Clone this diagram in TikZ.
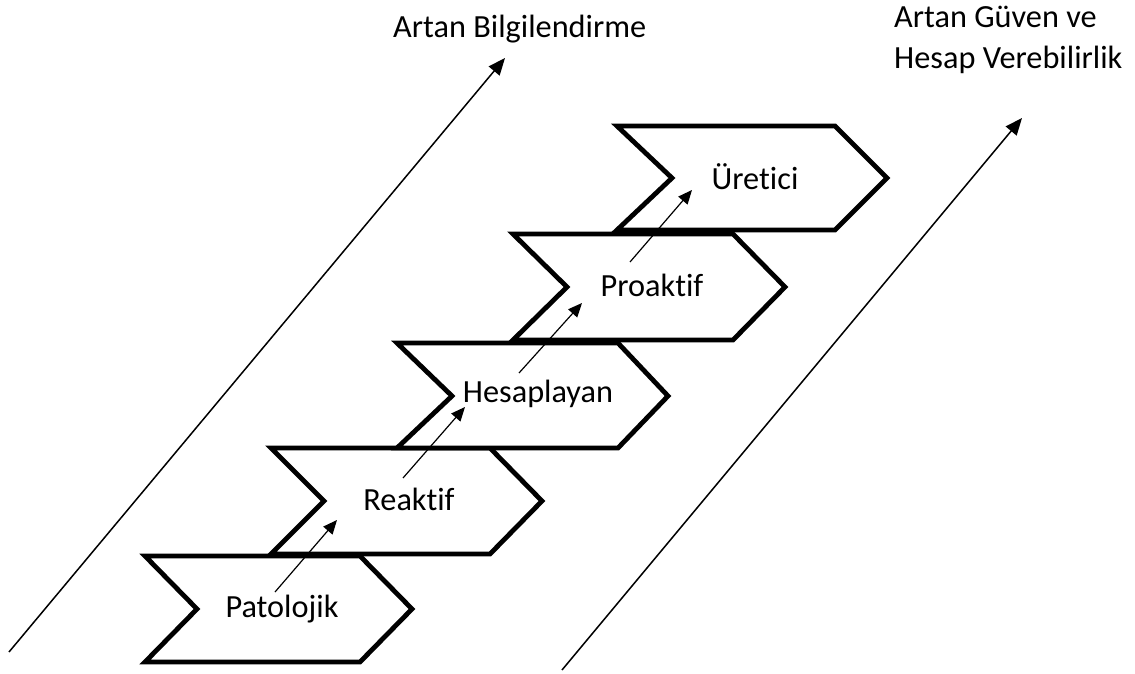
\documentclass[tikz,border=0pt]{standalone}
\usepackage{fontspec}
\setmainfont{Carlito}[Ligatures={NoCommon}]
\usetikzlibrary{arrows.meta}
\begin{document}
\begin{tikzpicture}[x=1pt,y=-1pt,
  chev/.style={draw=black,fill=white,line width=4.8pt,line join=miter},
  lbl/.style={font=\fontsize{32.3}{38}\selectfont,inner sep=0pt},
  small/.style={line width=1.2pt,-{Triangle[length=14pt,width=12pt]}},
  big/.style={line width=1.5pt,-{Triangle[length=17pt,width=14pt]}}]
\useasboundingbox (0,0) rectangle (1135,674);
\draw[chev] (145,556) -- (360,556) -- (412,609) -- (360,662) -- (145,662) -- (197,609) -- cycle;
\node[lbl] (c1) at (282,609) {Patolojik};
\draw[chev] (271,448) -- (490,448) -- (542,501) -- (490,554) -- (271,554) -- (324,501) -- cycle;
\node[lbl] (c2) at (409,499) {Reaktif};
\draw[chev] (397,343) -- (618,343) -- (668,396) -- (618,448) -- (397,448) -- (452,396) -- cycle;
\node[lbl] (c3) at (538,394) {Hesaplayan};
\draw[chev] (513,234) -- (733,234) -- (785,287) -- (733,340) -- (513,340) -- (567,287) -- cycle;
\node[lbl] (c4) at (652,285) {Proaktif};
\draw[chev] (617,126) -- (835,126) -- (887,178) -- (835,230) -- (617,230) -- (672,178) -- cycle;
\node[lbl] (c5) at (755,177) {Üretici};
% small arrows
\coordinate (s1) at (275,592); \coordinate (e1) at (337,520);
\coordinate (s2) at (403,478); \coordinate (e2) at (465,407);
\coordinate (s3) at (519,373); \coordinate (e3) at (582,303);
\coordinate (s4) at (630,262); \coordinate (e4) at (692,190);
\draw[small] (s1) -- (e1);
\draw[small] (s2) -- (e2);
\draw[small] (s3) -- (e3);
\draw[small] (s4) -- (e4);
% big arrows
\coordinate (bl0) at (9,652); \coordinate (bl1) at (505,58);
\coordinate (br0) at (562,670); \coordinate (br1) at (1022,118);
\draw[big] (bl0) -- (bl1);
\draw[big] (br0) -- (br1);
\node[lbl,anchor=base west] (t1) at (393,38) {Artan Bilgilendirme};
\node[lbl,anchor=base west] (t2) at (894,28) {Artan Güven ve};
\node[lbl,anchor=base west] (t3) at (894,69) {Hesap Verebilirlik};
\end{tikzpicture}
\end{document}
